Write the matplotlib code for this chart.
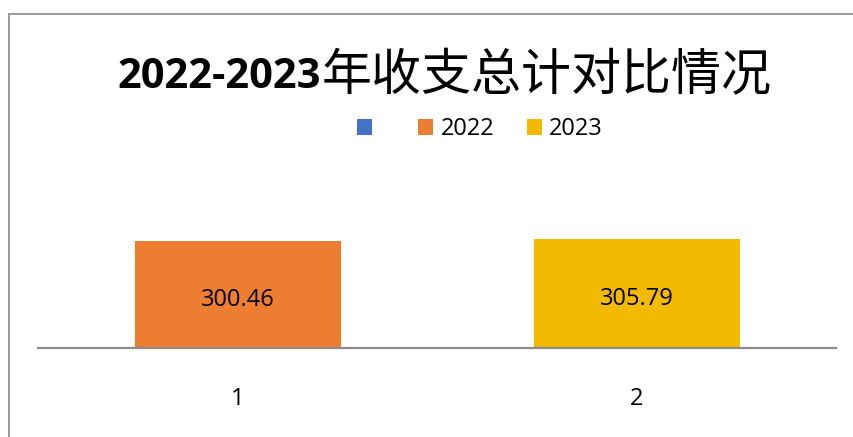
import matplotlib
matplotlib.use("Agg")
import matplotlib.pyplot as plt
from matplotlib.patches import Patch
from matplotlib.lines import Line2D

# ---- data ----
categories = ["1", "2"]
series_names = ["", "2022", "2023"]
series_colors = ["#4472C4", "#ED7D31", "#F2BA00"]
values_2022 = [300.46, None]
values_2023 = [None, 305.79]
title_num = "2022-2023"
title_cjk = "年收支总计对比情况"

W, H = 854, 437
fig = plt.figure(figsize=(W / 100, H / 100), dpi=100)

def fx(x):
    return x / W

def fy(y):
    return 1 - y / H

# chart border (top and left visible)
fig.add_artist(Line2D([fx(9), fx(W + 5)], [fy(14), fy(14)], color="#9a9a9a", lw=1.4))
fig.add_artist(Line2D([fx(9), fx(9)], [fy(14), fy(H + 5)], color="#9a9a9a", lw=1.4))

# axes
ax_left, ax_right, ax_bottom, ax_top = 38, 836, 347.5, 150
ax = fig.add_axes([fx(ax_left), fy(ax_bottom), fx(ax_right - ax_left), (ax_bottom - ax_top) / H])
px_per_unit = 106.5 / 300.46
ax.set_ylim(0, (ax_bottom - ax_top) / px_per_unit)
ax.set_xlim(-0.5, len(categories) - 0.5)

bw = 206 / 399
xs = list(range(len(categories)))
for vals, col in [(values_2022, series_colors[1]), (values_2023, series_colors[2])]:
    px = [x for x, v in zip(xs, vals) if v is not None]
    pv = [v for v in vals if v is not None]
    ax.bar(px, pv, width=bw, color=col, zorder=2)
    for x, v in zip(px, pv):
        ax.annotate(f"{v:.2f}", xy=(x, v / 2), xytext=(0, -4), textcoords="offset points",
                    ha="center", va="center", fontsize=17, family="Open Sans",
                    color="#000000", zorder=3)

for s in ["top", "left", "right"]:
    ax.spines[s].set_visible(False)
ax.spines["bottom"].set_color("#8c8c8c")
ax.spines["bottom"].set_linewidth(1.6)
ax.set_yticks([])
ax.set_xticks(xs)
ax.set_xticklabels(categories, fontsize=17, family="Open Sans")
ax.tick_params(axis="x", length=0, pad=28.5)

# title
fig.text(fx(117), fy(88), title_num, fontsize=30, fontweight="bold",
         family="Open Sans", ha="left", va="baseline")
fig.text(fx(322), fy(90), title_cjk, fontsize=36, family="Noto Sans CJK SC",
         fontweight="medium", ha="left", va="baseline")

# legend
handles = [Patch(facecolor=c, edgecolor="none") for c in series_colors]
fig.legend(handles, [" ", "2022", "2023"], loc="center", bbox_to_anchor=(fx(480), fy(129)),
           ncol=3, frameon=False, prop={"family": "Open Sans", "size": 17},
           handlelength=0.64, handleheight=0.64, handletextpad=0.3,
           columnspacing=1.4, borderpad=0, borderaxespad=0)

fig.savefig("out.png", dpi=100)
